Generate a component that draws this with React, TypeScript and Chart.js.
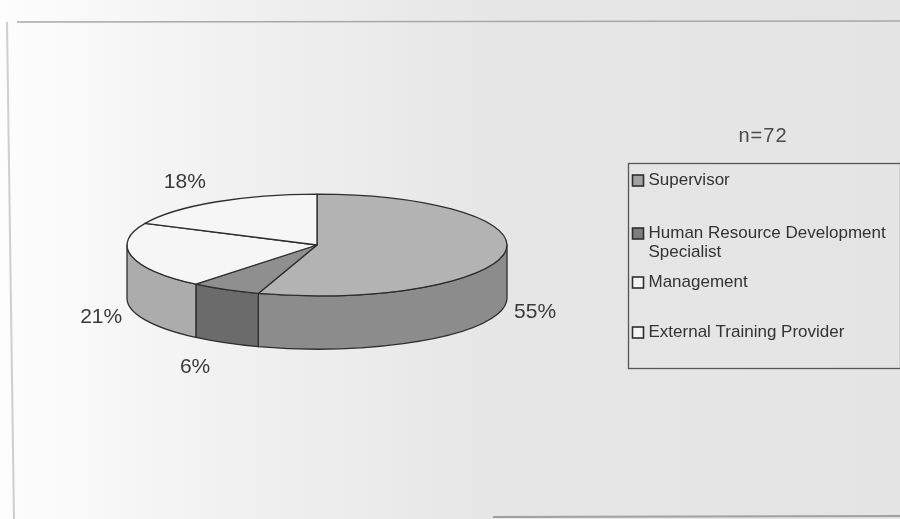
import React, { useEffect, useRef } from "react";
import { Chart, registerables } from "chart.js";

Chart.register(...registerables);

// ---- data ----
const categories = [
  "Supervisor",
  "Human Resource Development Specialist",
  "Management",
  "External Training Provider",
];
const legendLines = [
  ["Supervisor"],
  ["Human Resource Development", "Specialist"],
  ["Management"],
  ["External Training Provider"],
];
const values = [55, 6, 21, 18];
const percentLabels = ["55%", "6%", "21%", "18%"];
const sampleNote = "n=72";

// ---- style ----
const topColors = ["#b3b3b3", "#8f8f8f", "#f6f6f6", "#f6f6f6"];
const sideColors = ["#8c8c8c", "#6b6b6b", "#acacac", "#b8b8b8"];
const legendColors = ["#a2a2a2", "#7d7d7d", "#f4f4f4", "#f4f4f4"];
const FONT = '"Liberation Sans", Arial, sans-serif';
const TILT = 0.268;
const DEPTH = 0.28;
const legendRowOffsets = [17, 70, 119, 169];

const pie3d = {
  id: "pie3d",
  beforeDraw(chart: any) {
    const { ctx, width, height } = chart;
    ctx.save();
    const g = ctx.createLinearGradient(0, 0, width, 0);
    g.addColorStop(0, "#fdfdfd");
    g.addColorStop(0.25, "#f1f1f1");
    g.addColorStop(0.55, "#e6e6e6");
    g.addColorStop(1, "#e4e4e4");
    ctx.fillStyle = g;
    ctx.fillRect(0, 0, width, height);
    // scanned page frame
    ctx.strokeStyle = "#a8a8a8";
    ctx.lineWidth = 1.5;
    ctx.beginPath();
    ctx.moveTo(17, 22);
    ctx.lineTo(width, 21);
    ctx.stroke();
    ctx.strokeStyle = "#cfcfcf";
    ctx.lineWidth = 2;
    ctx.beginPath();
    ctx.moveTo(7, 22);
    ctx.lineTo(14, height);
    ctx.stroke();
    ctx.strokeStyle = "#a0a0a0";
    ctx.lineWidth = 2;
    ctx.beginPath();
    ctx.moveTo(493, height - 2);
    ctx.lineTo(width, height - 3);
    ctx.stroke();
    ctx.restore();
  },
  beforeDatasetsDraw(chart: any) {
    const ctx = chart.ctx;
    const arcs = chart.getDatasetMeta(0).data as any[];
    if (!arcs.length) return false;
    const cx = arcs[0].x;
    const cy = arcs[0].y;
    const rx = arcs[0].outerRadius;
    const ry = rx * TILT;
    const D = rx * DEPTH;
    const PI = Math.PI;
    ctx.save();
    ctx.lineWidth = 1.3;
    ctx.strokeStyle = "#2e2e2e";
    ctx.lineJoin = "round";
    // outer walls on the front half
    arcs.forEach((arc: any, i: number) => {
      const s = arc.startAngle;
      const e = arc.endAngle;
      for (const off of [-2 * PI, 0, 2 * PI]) {
        const lo = Math.max(s, off);
        const hi = Math.min(e, off + PI);
        if (hi > lo) {
          ctx.beginPath();
          ctx.ellipse(cx, cy, rx, ry, 0, lo - off, hi - off, false);
          ctx.ellipse(cx, cy + D, rx, ry, 0, hi - off, lo - off, true);
          ctx.closePath();
          ctx.fillStyle = sideColors[i];
          ctx.fill();
          ctx.stroke();
        }
      }
    });
    // top faces
    arcs.forEach((arc: any, i: number) => {
      ctx.beginPath();
      ctx.moveTo(cx, cy);
      ctx.ellipse(cx, cy, rx, ry, 0, arc.startAngle, arc.endAngle, false);
      ctx.closePath();
      ctx.fillStyle = topColors[i];
      ctx.fill();
      ctx.stroke();
    });
    ctx.restore();
    return false;
  },
  afterDraw(chart: any) {
    const ctx = chart.ctx;
    ctx.save();
    // percentage labels placed from the arc geometry
    const arcs = chart.getDatasetMeta(0).data as any[];
    if (arcs.length) {
      const cx = arcs[0].x;
      const cy = arcs[0].y;
      const rx = arcs[0].outerRadius;
      const ry = rx * TILT;
      const D = rx * DEPTH;
      ctx.font = `21px ${FONT}`;
      ctx.fillStyle = "#3a3a3a";
      ctx.textAlign = "center";
      ctx.textBaseline = "middle";
      arcs.forEach((arc: any, i: number) => {
        const mid = (arc.startAngle + arc.endAngle) / 2;
        const c = Math.cos(mid);
        const s = Math.sin(mid);
        const x = cx + rx * c + 0.16 * rx * Math.sign(c);
        const y = cy + 1.5 * ry * s + 2 + (s > 0 ? D : 0);
        ctx.fillText(percentLabels[i], x, y);
      });
    }
    // sample size note
    ctx.font = `20px ${FONT}`;
    ctx.fillStyle = "#4a4a4a";
    ctx.textAlign = "center";
    ctx.textBaseline = "middle";
    (ctx as any).letterSpacing = "1px";
    ctx.fillText(sampleNote, 763, 136);
    (ctx as any).letterSpacing = "0px";
    // legend box
    const bx = 628.5, by = 163.5, bw = 272, bh = 205;
    ctx.strokeStyle = "#555";
    ctx.lineWidth = 1.3;
    ctx.strokeRect(bx, by, bw, bh);
    ctx.font = `17px ${FONT}`;
    ctx.textAlign = "left";
    legendLines.forEach((lines, i) => {
      const y0 = by + legendRowOffsets[i];
      ctx.fillStyle = legendColors[i];
      ctx.fillRect(bx + 4, y0 - 5.5, 11, 11);
      ctx.strokeStyle = "#2e2e2e";
      ctx.lineWidth = 1.6;
      ctx.strokeRect(bx + 4, y0 - 5.5, 11, 11);
      ctx.fillStyle = "#333";
      lines.forEach((t, j) => {
        ctx.fillText(t, bx + 20, y0 + j * 19);
      });
    });
    ctx.restore();
  },
};

export default function App() {
  const ref = useRef<HTMLCanvasElement>(null);
  useEffect(() => {
    if (!ref.current) return;
    const chart = new Chart(ref.current, {
      type: "pie",
      data: {
        labels: categories,
        datasets: [
          {
            data: values,
            backgroundColor: topColors,
            borderWidth: 0,
            hoverOffset: 0,
          },
        ],
      },
      options: {
        responsive: true,
        maintainAspectRatio: false,
        animation: false,
        layout: { padding: { left: 127, right: 393, top: 55, bottom: 84 } },
        plugins: {
          legend: { display: false },
          tooltip: { enabled: false },
        },
      },
      plugins: [pie3d],
    });
    return () => chart.destroy();
  }, []);
  return (
    <div style={{ position: "fixed", left: 0, top: 0, width: 900, height: 519 }}>
      <canvas ref={ref} />
    </div>
  );
}
